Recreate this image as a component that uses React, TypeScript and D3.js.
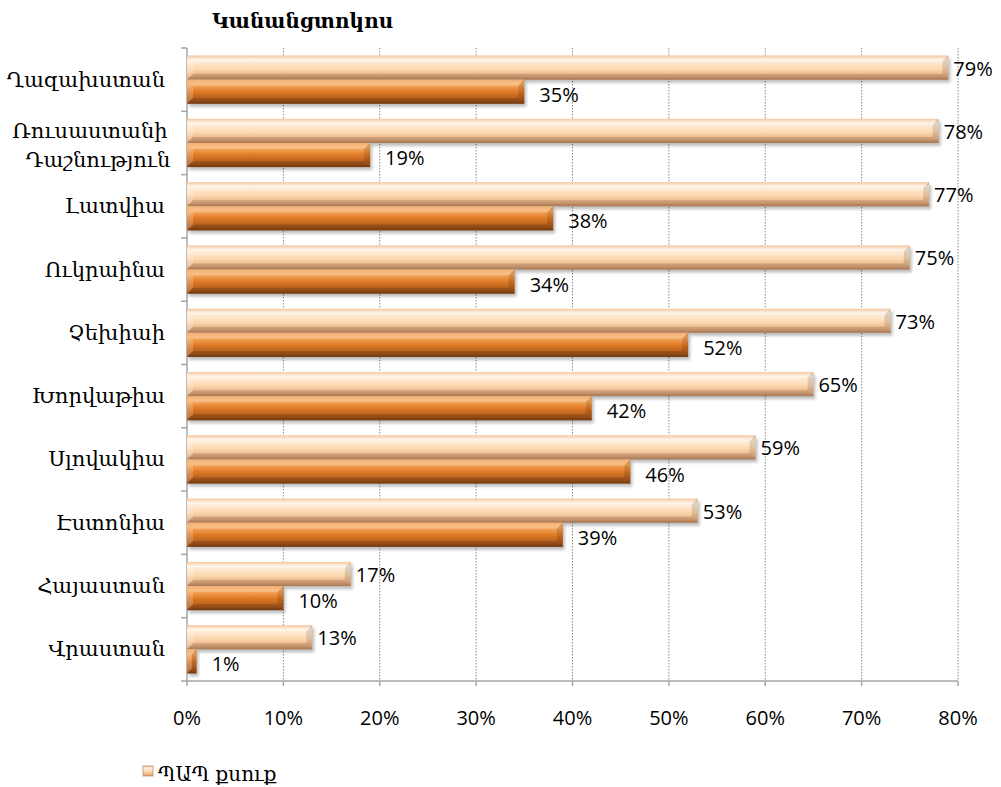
import React from "react";
import * as d3 from "d3";

const categories = [
  ["Ղազախստան"],
  ["Ռուսաստանի", "Դաշնություն"],
  ["Լատվիա"],
  ["Ուկրաինա"],
  ["Չեխիաի"],
  ["Խորվաթիա"],
  ["Սլովակիա"],
  ["Էստոնիա"],
  ["Հայաստան"],
  ["Վրաստան"],
];
const seriesLight = [79, 78, 77, 75, 73, 65, 59, 53, 17, 13];
const seriesDark = [35, 19, 38, 34, 52, 42, 46, 39, 10, 1];
const xTicks = [0, 10, 20, 30, 40, 50, 60, 70, 80];
const title = "Կանանցտոկոս";
const legendLabel = "ՊԱՊ քսուք";

const W = 1001;
const H = 787;
const left = 187;
const right = 958;
const top = 48;
const bottom = 681;

const ARM = "'DejaVu Serif', serif";
const NUM = "'Open Sans', sans-serif";

function Bar({ x0, x1, y, h, grad }: any) {
  const w = Math.max(0, x1 - x0);
  const b = Math.min(6, w / 2);
  return (
    <g>
      <rect x={x0 + 2} y={y + 3} width={w} height={h} fill="#000" opacity={0.25} filter="url(#blur)" />
      <rect x={x0} y={y} width={w} height={h} fill={`url(#${grad})`} />
      <polygon points={`${x0},${y} ${x1},${y} ${x1 - b},${y + b} ${x0 + b},${y + b}`} fill="#fff" opacity={0.22} />
      <polygon points={`${x0},${y + h} ${x1},${y + h} ${x1 - b},${y + h - b} ${x0 + b},${y + h - b}`} fill="#000" opacity={0.14} />
      <polygon points={`${x1},${y} ${x1},${y + h} ${x1 - b},${y + h - b} ${x1 - b},${y + b}`} fill="#000" opacity={0.12} />
      <polygon points={`${x0},${y} ${x0},${y + h} ${x0 + b},${y + h - b} ${x0 + b},${y + b}`} fill="#fff" opacity={0.2} />
    </g>
  );
}

export default function App() {
  const x = d3.scaleLinear().domain([0, 80]).range([left, right]);
  const y = d3
    .scaleBand<number>()
    .domain(d3.range(categories.length))
    .range([top, bottom])
    .paddingInner(0)
    .paddingOuter(0);
  const bw = y.bandwidth();
  const pad = 7.5;
  const barH = (bw - 2 * pad) / 2;

  return (
    <svg
      width={W}
      height={H}
      style={{ position: "fixed", left: 0, top: 0, background: "#fff" }}
    >
      <defs>
        <linearGradient id="gLight" x1="0" y1="0" x2="0" y2="1">
          <stop offset="0" stopColor="#f0b988" />
          <stop offset="0.18" stopColor="#fff2e2" />
          <stop offset="0.55" stopColor="#fcd8b0" />
          <stop offset="0.85" stopColor="#eab283" />
          <stop offset="1" stopColor="#c48a60" />
        </linearGradient>
        <linearGradient id="gDark" x1="0" y1="0" x2="0" y2="1">
          <stop offset="0" stopColor="#ee9a4e" />
          <stop offset="0.18" stopColor="#f8ad64" />
          <stop offset="0.5" stopColor="#e07a26" />
          <stop offset="0.85" stopColor="#ad5a1b" />
          <stop offset="1" stopColor="#854212" />
        </linearGradient>
        <filter id="blur" x="-10%" y="-50%" width="120%" height="200%">
          <feGaussianBlur stdDeviation="1.5" />
        </filter>
      </defs>

      <text x={212} y={28} fontFamily={ARM} fontWeight="bold" fontSize={20} fill="#000">
        {title}
      </text>

      {xTicks.slice(1).map((t) => (
        <line
          key={t}
          x1={x(t)}
          x2={x(t)}
          y1={top}
          y2={bottom}
          stroke="#8a8a8a"
          strokeWidth={1}
          strokeDasharray="1.5,1.5"
        />
      ))}

      <line x1={left} x2={left} y1={top} y2={bottom} stroke="#a6a6a6" strokeWidth={1.5} />
      <line x1={left} x2={right} y1={bottom} y2={bottom} stroke="#a6a6a6" strokeWidth={1.5} />
      {d3.range(categories.length + 1).map((i) => {
        const yy = top + i * bw;
        return <line key={i} x1={left - 6} x2={left} y1={yy} y2={yy} stroke="#a6a6a6" strokeWidth={1.5} />;
      })}
      {xTicks.map((t) => (
        <line key={t} x1={x(t)} x2={x(t)} y1={bottom} y2={bottom + 5} stroke="#a6a6a6" strokeWidth={1.5} />
      ))}

      {categories.map((c, i) => {
        const y0 = y(i)!;
        const ly = y0 + pad;
        const dy = y0 + pad + barH;
        return (
          <g key={i}>
            <Bar x0={x(0)} x1={x(seriesLight[i])} y={ly} h={barH} grad="gLight" />
            <Bar x0={x(0)} x1={x(seriesDark[i])} y={dy} h={barH} grad="gDark" />
            <text x={x(seriesLight[i]) + 5} y={ly + barH / 2 + 8} fontFamily={NUM} fontSize={20} fill="#000">
              {seriesLight[i]}%
            </text>
            <text x={x(seriesDark[i]) + 15} y={dy + barH / 2 + 10} fontFamily={NUM} fontSize={20} fill="#000">
              {seriesDark[i]}%
            </text>
            {c.length === 1 ? (
              <text x={165} y={y0 + bw / 2 + 7} textAnchor="end" fontFamily={ARM} fontSize={21} fill="#000">
                {c[0]}
              </text>
            ) : (
              <text textAnchor="middle" fontFamily={ARM} fontSize={21} fill="#000">
                <tspan x={90} y={y0 + bw / 2 - 5}>{c[0]}</tspan>
                <tspan x={98} y={y0 + bw / 2 + 24}>{c[1]}</tspan>
              </text>
            )}
          </g>
        );
      })}

      {xTicks.map((t) => (
        <text key={t} x={x(t)} y={725} textAnchor="middle" fontFamily={NUM} fontSize={20} fill="#000">
          {t}%
        </text>
      ))}

      <rect x={143} y={766} width={10} height={10} fill="url(#gLight)" stroke="#c99068" strokeWidth={0.8} />
      <text x={158} y={781} fontFamily={ARM} fontSize={20} fill="#000">
        {legendLabel}
      </text>
    </svg>
  );
}
